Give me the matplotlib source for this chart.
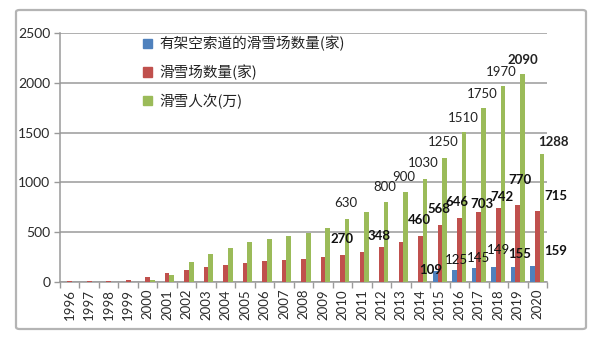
import matplotlib
matplotlib.use("Agg")
import matplotlib.pyplot as plt
from matplotlib.patches import Patch, FancyBboxPatch

# ---- data -------------------------------------------------------------
years = ["1996", "1997", "1998", "1999", "2000", "2001", "2002", "2003",
         "2004", "2005", "2006", "2007", "2008", "2009", "2010", "2011",
         "2012", "2013", "2014", "2015", "2016", "2017", "2018", "2019",
         "2020"]
cable_resorts = [0, 0, 0, 0, 0, 0, 0, 0, 0, 0, 0, 0, 0, 0, 0, 0, 0, 0, 0,
                 109, 125, 145, 149, 155, 159]
resorts = [9, 11, 13, 20, 50, 90, 125, 150, 175, 190, 210, 225, 235, 250,
           270, 300, 348, 400, 460, 568, 646, 703, 742, 770, 715]
skiers = [1, 2, 3, 5, 25, 70, 200, 280, 345, 400, 435, 465, 495, 545, 630,
          700, 800, 900, 1030, 1250, 1510, 1750, 1970, 2090, 1288]

series_names = ["有架空索道的滑雪场数量(家)", "滑雪场数量(家)", "滑雪人次(万)"]
y_ticks = [0, 500, 1000, 1500, 2000, 2500]

# years that carry a value label, per series
cable_labelled = ["2015", "2016", "2017", "2018", "2019", "2020"]
resort_labelled = ["2010", "2012", "2014", "2015", "2016", "2017", "2018",
                   "2019", "2020"]
skier_labelled = ["2010", "2012", "2013", "2014", "2015", "2016", "2017",
                  "2018", "2019", "2020"]

# ---- label layout (pixel offsets from bar top, weight) ----------------
cable_offsets = {"2015": (-4.5, 1, "bold"), "2016": (1.7, 9.5, "normal"),
                 "2017": (4.5, 10, "normal"), "2018": (5, 17, "normal"),
                 "2019": (6.5, 13, "bold"), "2020": (23, 15, "bold")}
resort_offsets = {"2010": (0, 16, "bold"), "2012": (-2, 11, "bold"),
                  "2014": (-1, 16, "bold"), "2015": (-0.5, 16, "bold"),
                  "2016": (-2, 16, "bold"), "2017": (3, 8, "bold"),
                  "2018": (3.5, 11, "bold"), "2019": (2.5, 25, "bold"),
                  "2020": (19, 14.5, "bold")}
skier_offsets = {"2010": (-1, 16, "normal"), "2012": (-1, 15, "normal"),
                 "2013": (-1.5, 15, "normal"), "2014": (-1.5, 16, "normal"),
                 "2015": (-1, 15, "normal"), "2016": (-1, 14, "normal"),
                 "2017": (-1, 14, "normal"), "2018": (-1.5, 14, "normal"),
                 "2019": (0, 14, "bold"), "2020": (11.5, 11.5, "bold")}

BLUE = "#4F81BD"
RED = "#C0504D"
GREEN = "#9BBB59"
GRID = "#9A9A9A"

plt.rcParams["font.family"] = ["Lato", "DejaVu Sans"]

fig = plt.figure(figsize=(6.0, 3.39), dpi=100)
W, H = 600, 339

# outer chart frame
frame = FancyBboxPatch((16 / W, 10 / H), 570 / W, 319 / H,
                       boxstyle="round,pad=0,rounding_size=0.006",
                       transform=fig.transFigure, facecolor="none",
                       edgecolor="#B4B4B4", linewidth=1.6, zorder=-1)
fig.patches.append(frame)

ax = fig.add_axes([60 / W, (H - 282) / H, 487 / W, 249 / H])
ax.set_facecolor("none")

x = list(range(len(years)))
bw = 0.24
ax.bar([i - bw for i in x], cable_resorts, width=bw, color=BLUE, zorder=3)
ax.bar(x, resorts, width=bw, color=RED, zorder=3)
ax.bar([i + bw for i in x], skiers, width=bw, color=GREEN, zorder=3)

ax.set_xlim(-0.5, len(years) - 0.5)
ax.set_ylim(0, 2500)
ax.set_yticks(y_ticks)
ax.set_yticklabels([str(v) for v in y_ticks])
ax.yaxis.grid(True, color=GRID, linewidth=1.1, zorder=1)
ax.set_axisbelow(True)

# group boundary ticks, labels at group centres
ax.set_xticks([i - 0.5 for i in range(len(years) + 1)])
ax.set_xticklabels([])
ax.set_xticks(x, minor=True)
ax.set_xticklabels(years, minor=True, rotation=90, fontsize=9.5,
                   color="#2A2A2A")
ax.tick_params(axis="x", which="major", length=4, color=GRID, width=1)
ax.tick_params(axis="x", which="minor", length=0, pad=5)
ax.tick_params(axis="y", length=4, color=GRID, width=1, pad=3,
               labelsize=10, labelcolor="#2A2A2A")

for side in ("top", "right"):
    ax.spines[side].set_visible(False)
for side in ("left", "bottom"):
    ax.spines[side].set_color(GRID)
    ax.spines[side].set_linewidth(1.1)


def label_series(values, labelled, offsets, shift, color):
    for yr in labelled:
        i = years.index(yr)
        v = values[i]
        dx, dy, weight = offsets[yr]
        ax.annotate(str(v), xy=(i + shift, v),
                    xytext=(dx * 0.72, dy * 0.72), textcoords="offset points",
                    ha="center", va="center", fontsize=9.5,
                    fontweight=weight, color=color, zorder=5)


label_series(cable_resorts, cable_labelled, cable_offsets, -bw, "#111111")
label_series(resorts, resort_labelled, resort_offsets, 0, "#111111")
label_series(skiers, skier_labelled, skier_offsets, bw, "#222222")

handles = [Patch(facecolor=c, edgecolor=c) for c in (BLUE, RED, GREEN)]
leg = ax.legend(handles, series_names, loc="upper left",
                bbox_to_anchor=((143 - 60) / 487, (282 - 36) / 249),
                frameon=False, prop={"family": ["Noto Sans CJK SC"],
                                     "size": 10.5},
                handlelength=0.65, handleheight=0.65, handletextpad=0.45,
                labelspacing=0.9, borderaxespad=0, borderpad=0)
for t in leg.get_texts():
    t.set_color("#222222")

fig.savefig("out.png", dpi=100)
